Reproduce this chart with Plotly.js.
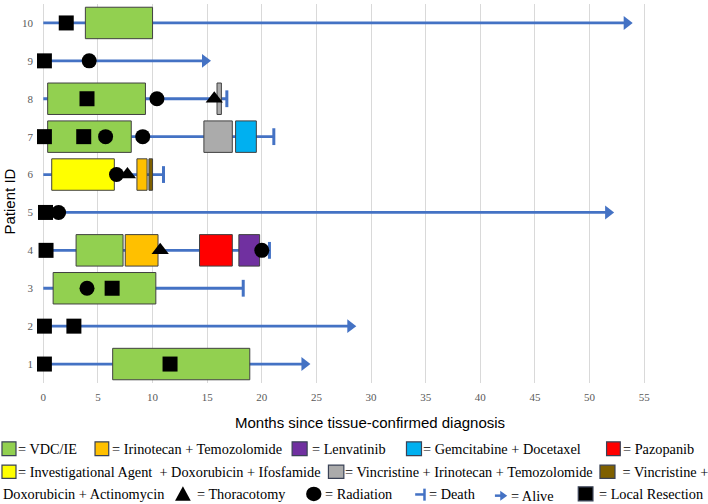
<!DOCTYPE html>
<html>
<head>
<meta charset="utf-8">
<script src="https://cdn.plot.ly/plotly-3.0.1.min.js"></script>
<style>html,body{margin:0;padding:0;background:#fff;}#chart{width:708px;height:504px;}</style>
</head>
<body>
<div id="chart"></div>
<script>
// ---------- DATA ----------
const patients = [1, 2, 3, 4, 5, 6, 7, 8, 9, 10];
const followUp = [23.9, 28.1, 18.3, 20.7, 51.7, 11.0, 21.1, 16.8, 14.8, 53.4];
const status   = ['Alive','Alive','Death','Death','Alive','Death','Death','Death','Alive','Alive'];

// treatment blocks: patient, start month, end month
const vdcPatient = [1, 3, 4, 7, 8, 10];
const vdcStart   = [6.35, 0.9, 3.0, 0.4, 0.4, 3.85];
const vdcEnd     = [18.9, 10.3, 7.3, 8.05, 9.35, 10.0];

const itPatient = [4, 6];
const itStart   = [7.5, 8.57];
const itEnd     = [10.5, 9.5];

const lenPatient = [4];
const lenStart   = [17.9];
const lenEnd     = [19.8];

const gdPatient = [7];
const gdStart   = [17.6];
const gdEnd     = [19.5];

const pazPatient = [4];
const pazStart   = [14.3];
const pazEnd     = [17.3];

const iadiPatient = [6];
const iadiStart   = [0.77];
const iadiEnd     = [6.5];

const vitPatient = [7, 8];
const vitStart   = [14.7, 15.9];
const vitEnd     = [17.3, 16.3];

const vdaPatient = [6];
const vdaStart   = [9.67];
const vdaEnd     = [10.0];

// events
const resectionPatient = [1, 1, 2, 2, 3, 4, 5, 7, 7, 8, 9, 10];
const resectionMonth   = [0.1, 11.6, 0.1, 2.8, 6.3, 0.25, 0.2, 0.1, 3.7, 4.0, 0.1, 2.1];

const radiationPatient = [3, 4, 5, 6, 7, 7, 8, 9];
const radiationMonth   = [4.0, 20.0, 1.4, 6.7, 5.7, 9.1, 10.4, 4.2];

const thoracotomyPatient = [4, 6, 8];
const thoracotomyMonth   = [10.7, 7.7, 15.65];

const xTickVals = [0, 5, 10, 15, 20, 25, 30, 35, 40, 45, 50, 55];

// ---------- STYLE ----------
const lineBlue = '#4472C4';
const outline = '#404040';
const serif = '"Liberation Serif", "Times New Roman", Times, serif';
const sans = '"Liberation Sans", Arial, sans-serif';

function diff(a, b) { return a.map((v, i) => b[i] - v); }

function treatment(name, pts, st, en, color) {
  return {
    type: 'bar', orientation: 'h', name: name,
    y: pts, base: st, x: diff(st, en),
    width: pts.map(() => 0.83),
    marker: {color: color, line: {color: outline, width: 1}},
    hoverinfo: 'skip'
  };
}

const traces = [];
// patient timelines as thin bars (drawn beneath the treatment boxes)
traces.push({
  type: 'bar', orientation: 'h', name: 'timeline',
  y: patients, base: patients.map(() => 0), x: followUp,
  width: patients.map(() => 0.075),
  marker: {color: lineBlue, line: {width: 0}}, hoverinfo: 'skip'
});
traces.push(treatment('VDC/IE', vdcPatient, vdcStart, vdcEnd, '#92D050'));
traces.push(treatment('Irinotecan + Temozolomide', itPatient, itStart, itEnd, '#FFC000'));
traces.push(treatment('Lenvatinib', lenPatient, lenStart, lenEnd, '#7030A0'));
traces.push(treatment('Gemcitabine + Docetaxel', gdPatient, gdStart, gdEnd, '#00B0F0'));
traces.push(treatment('Pazopanib', pazPatient, pazStart, pazEnd, '#FF0000'));
traces.push(treatment('Investigational Agent + Doxorubicin + Ifosfamide', iadiPatient, iadiStart, iadiEnd, '#FFFF00'));
traces.push(treatment('Vincristine + Irinotecan + Temozolomide', vitPatient, vitStart, vitEnd, '#ABABAB'));
traces.push(treatment('Vincristine + Doxorubicin + Actinomycin', vdaPatient, vdaStart, vdaEnd, '#7F6000'));

// end markers
const deadIdx = patients.map((p, i) => i).filter(i => status[i] === 'Death');
const aliveIdx = patients.map((p, i) => i).filter(i => status[i] === 'Alive');
traces.push({
  type: 'scatter', mode: 'markers', name: 'Death',
  x: deadIdx.map(i => followUp[i]), y: deadIdx.map(i => patients[i]),
  marker: {symbol: 'line-ns', size: 12, line: {color: lineBlue, width: 3}},
  hoverinfo: 'skip'
});
traces.push({
  type: 'scatter', mode: 'markers', name: 'Alive',
  x: aliveIdx.map(i => followUp[i]), y: aliveIdx.map(i => patients[i]),
  marker: {symbol: 'triangle-right', size: 12, color: lineBlue},
  hoverinfo: 'skip'
});
traces.push({
  type: 'scatter', mode: 'markers', name: 'Local Resection',
  x: resectionMonth, y: resectionPatient,
  marker: {symbol: 'square', size: 15, color: '#000'}, hoverinfo: 'skip'
});
traces.push({
  type: 'scatter', mode: 'markers', name: 'Radiation',
  x: radiationMonth, y: radiationPatient,
  marker: {symbol: 'circle', size: 15, color: '#000'}, hoverinfo: 'skip'
});
traces.push({
  type: 'scatter', mode: 'markers', name: 'Thoracotomy',
  x: thoracotomyMonth, y: thoracotomyPatient,
  marker: {symbol: 'triangle-up', size: 15, color: '#000'}, hoverinfo: 'skip'
});

// ---------- LAYOUT ----------
const L = 37, R = 665.7, T = 4.1, B = 382.9;
const px = v => (v - L) / (R - L);
const py = v => (B - v) / (B - T);

const shapes = [];
const annotations = [];
function rect(x0, x1, y0, y1, color) {
  shapes.push({type: 'rect', xref: 'paper', yref: 'paper',
    x0: px(x0), x1: px(x1), y0: py(y1), y1: py(y0),
    fillcolor: color, line: {color: '#3a4256', width: 1.2}});
}
function label(x, y, text) {
  annotations.push({xref: 'paper', yref: 'paper', x: px(x), y: py(y),
    xanchor: 'left', yanchor: 'middle', showarrow: false, text: text,
    font: {family: serif, size: 14.3, color: '#000'}, borderpad: 0});
}
// row 1
rect(2, 16, 441.7, 455.5, '#92D050');   label(17.5, 449.3, '= VDC/IE');
rect(95, 108.7, 441.7, 455.5, '#FFC000'); label(110.8, 449.3, '= Irinotecan + Temozolomide');
rect(292, 307, 441.7, 455.5, '#7030A0');  label(310.8, 449.3, '= Lenvatinib');
rect(406.3, 421.3, 441.7, 455.5, '#00B0F0'); label(421.5, 449.3, '= Gemcitabine + Docetaxel');
rect(606.3, 620, 441.7, 455.5, '#FF0000'); label(621.5, 449.3, '= Pazopanib');
// row 2
rect(2, 16, 465, 478.3, '#FFFF00'); label(17.5, 471.7, '= Investigational Agent \u00A0+ Doxorubicin + Ifosfamide');
rect(328.3, 343.7, 465, 478.3, '#ABABAB'); label(344.1, 471.7, '= Vincristine + Irinotecan + Temozolomide');
rect(599.7, 614.7, 465, 478.3, '#7F6000'); label(617.5, 471.7, '\u00A0= Vincristine +');
// row 3
label(2.1, 494.3, 'Doxorubicin + Actinomycin');
shapes.push({type: 'path', xref: 'paper', yref: 'paper',
  path: 'M' + px(175) + ',' + py(500.7) + ' L' + px(190.7) + ',' + py(500.7) + ' L' + px(182.85) + ',' + py(486) + ' Z',
  fillcolor: '#000', line: {width: 0}});
label(195.5, 494.3, '= Thoracotomy');
shapes.push({type: 'circle', xref: 'paper', yref: 'paper',
  x0: px(306), x1: px(321.3), y0: py(501), y1: py(486.5), fillcolor: '#000', line: {width: 0}});
label(324.1, 494.3, '= Radiation');
shapes.push({type: 'line', xref: 'paper', yref: 'paper', x0: px(415), x1: px(424), y0: py(494.3), y1: py(494.3), line: {color: lineBlue, width: 2.5}});
shapes.push({type: 'line', xref: 'paper', yref: 'paper', x0: px(424.3), x1: px(424.3), y0: py(488.5), y1: py(500.5), line: {color: lineBlue, width: 2.5}});
label(428.1, 494.3, '= Death');
shapes.push({type: 'line', xref: 'paper', yref: 'paper', x0: px(494.7), x1: px(501), y0: py(495.5), y1: py(495.5), line: {color: lineBlue, width: 2.5}});
shapes.push({type: 'path', xref: 'paper', yref: 'paper',
  path: 'M' + px(500) + ',' + py(490.5) + ' L' + px(507) + ',' + py(495.5) + ' L' + px(500) + ',' + py(500.5) + ' Z',
  fillcolor: lineBlue, line: {width: 0}});
label(510.1, 496, '= Alive');
rect(578, 592.7, 486.7, 500.7, '#000'); label(597.5, 493.5, '= Local Resection');

// axis titles
annotations.push({xref: 'paper', yref: 'paper', x: px(370), y: py(422.7), xanchor: 'center', yanchor: 'middle',
  showarrow: false, text: 'Months since tissue-confirmed diagnosis', font: {family: sans, size: 15, color: '#000'}});
annotations.push({xref: 'paper', yref: 'paper', x: px(9.5), y: py(201), xanchor: 'center', yanchor: 'middle',
  showarrow: false, textangle: -90, text: 'Patient ID', font: {family: sans, size: 15, color: '#000'}});

const x0 = -(43.3 - L) / 10.92;
const x1 = (R - 43.3) / 10.92;

const layout = {
  width: 708, height: 504,
  margin: {l: L, r: 708 - R, t: T, b: 504 - B, pad: 0},
  paper_bgcolor: '#fff', plot_bgcolor: '#fff',
  barmode: 'overlay', showlegend: false,
  xaxis: {range: [x0, x1], tickvals: xTickVals, ticktext: xTickVals.map(String),
    showgrid: true, gridcolor: '#d9d9d9', gridwidth: 1, zeroline: false, showline: false,
    ticks: '', ticklabelstandoff: 6,
    tickfont: {family: serif, size: 11, color: '#595959'}},
  yaxis: {range: [0.5, 10.5], tickvals: patients, ticktext: patients.map(String),
    showgrid: false, zeroline: false, showline: false, ticks: '', ticklabelstandoff: 3,
    tickfont: {family: serif, size: 11, color: '#595959'}},
  shapes: shapes, annotations: annotations
};

Plotly.newPlot('chart', traces, layout, {staticPlot: true, displayModeBar: false});
</script>
</body>
</html>
